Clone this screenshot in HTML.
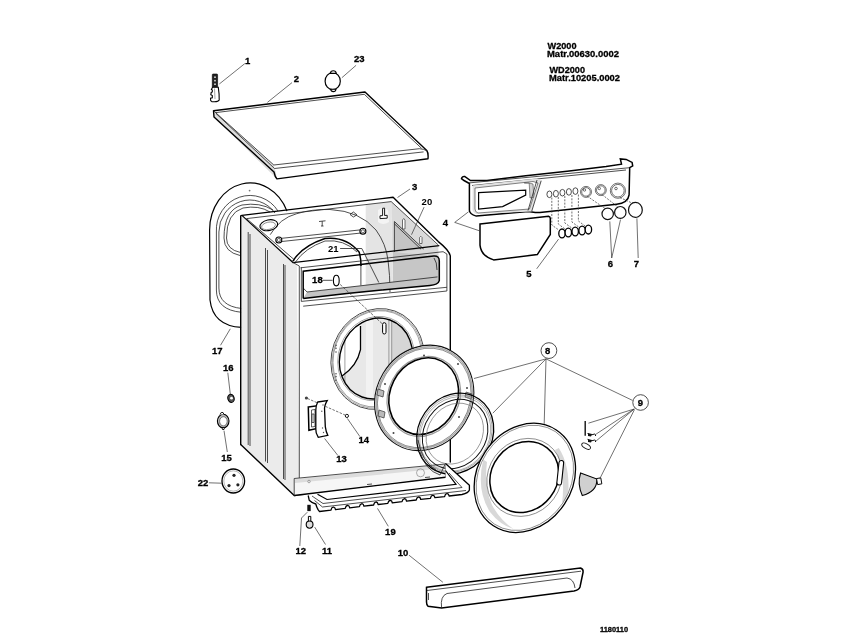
<!DOCTYPE html>
<html><head><meta charset="utf-8">
<style>
html,body{margin:0;padding:0;background:#fff;width:847px;height:635px;overflow:hidden}
svg{position:absolute;left:0;top:0;will-change:transform}
text{font-family:"Liberation Sans",sans-serif;font-weight:bold;fill:#000;stroke:#000;stroke-width:0.3}
.k{stroke:#000;fill:none;stroke-width:1.4;stroke-linejoin:round;stroke-linecap:round}
.t{stroke:#222;fill:none;stroke-width:0.8}
.l{stroke:#333;fill:none;stroke-width:0.7}
.g{fill:#e6e6e6}
</style></head>
<body>
<svg width="847" height="635" viewBox="0 0 847 635">
<!-- header text -->
<g font-size="9.5" transform="translate(0,0)">
<text x="547.5" y="49" textLength="29" lengthAdjust="spacingAndGlyphs">W2000</text>
<text x="547" y="57" textLength="72" lengthAdjust="spacingAndGlyphs">Matr.00630.0002</text>
<text x="549.5" y="73.2" textLength="35.5" lengthAdjust="spacingAndGlyphs">WD2000</text>
<text x="549" y="81" textLength="71" lengthAdjust="spacingAndGlyphs">Matr.10205.0002</text>
</g>
<text x="600" y="632.3" font-size="7.8" textLength="28" lengthAdjust="spacingAndGlyphs">1180110</text>

<!-- LID (2) -->
<path fill="#dedede" d="M213.5,110.7 L273.8,165 Q276,172 277,178.9 L214,117 Z"/>
<path class="k" stroke-width="1.4" d="M213.5,110.7 L365,92 L426.8,150.5 Q428.5,153 428,158.7 L277,178.9 Q275,177 274,172 L214,117 Z"/>
<path class="t" d="M213.5,110.7 L273.8,165 L419.4,148.7 Q424,149 426.8,150.8 M215.8,112.6 L364.3,94.3 L421.5,148.3 M274.5,168.5 L423.6,151.9 M216,113.5 L274.5,168.5"/>
<path class="l" d="M397.5,197.5 L410,189"/>

<!-- GASKET / BACK PANEL (17) -->
<path fill="#fff" stroke="#000" stroke-width="1.2" d="M241.6,327.4 Q213,326 210,300 L209.6,230 A40.4,47 0 0 1 287,211.1"/>
<path class="t" stroke="#333" stroke-width="0.7" d="M241.6,312.3 Q216.4,310 216.4,290 L216.4,232 A33.6,34.5 0 0 1 278,211"/>
<path class="t" stroke="#333" stroke-width="0.7" d="M241.6,308.5 Q218.9,306 218.9,288 L218.9,232 A31.1,32 0 0 1 275,213"/>
<path class="t" stroke="#333" stroke-width="0.7" d="M240.3,255.6 Q224,252 224,238 Q224,210 242,205 Q260,202 273,210"/>
<path class="t" stroke="#555" stroke-width="0.6" d="M240.5,252.5 Q226.5,249.5 226.5,238 Q226.5,213 243,208 Q259,205 270,212"/>
<circle cx="249.6" cy="190.6" r="0.9" fill="#777"/>

<!-- CABINET side face -->
<path fill="#ebebeb" d="M241.5,215 L297,264.5 L299.3,478 L294.5,478.5 L294.2,495.5 L240.7,444.5 Z"/>
<path class="t" stroke="#9a9a9a" stroke-width="1" d="M248.2,232 L248.2,445 M265.5,248 L265.5,461.5 M283.5,264 L283.5,479"/>
<path class="t" stroke="#f8f8f8" stroke-width="1.2" d="M250,234 L250,446 M267.5,250 L267.5,463 M285,265 L285,480"/>
<!-- front face white -->
<path fill="#fff" d="M297,264.5 L450.5,248 L450.5,462 L445.5,463.5 L299.3,478 Z"/>
<!-- top inside gray walls -->
<path fill="#e4e4e4" d="M365.7,204.5 L391.2,201.6 L393,290 L365.7,292 Z"/>
<path fill="#f4f4f4" d="M378,210 Q383,206 388,210 L389,222 Q383,226 378,222 Z"/>
<path fill="#dadada" d="M391.2,201.6 L438.3,245.8 L439.3,283 L393,288 Z"/>
<path fill="#c6c6c6" d="M393,252 L433.7,256 Q439.3,257 439.3,262 L439.3,280.6 L393,285 Z"/>
<!-- panel 20 -->
<path fill="#c4c4c4" d="M394.4,221.5 L423.6,249 L394.4,252 Z"/>
<path class="t" d="M394.4,221.5 L423.6,249 M394.4,223.8 L421,249.2 M394.4,221.5 L394.4,252"/>
<path fill="#fff" stroke="#333" stroke-width="0.7" d="M402.5,229 L402.5,220 Q403.7,217 405,220 L405,229 Z M419.6,243.5 L419.6,237.5 Q420.8,235 422,237.5 L422,243.5 Z"/>
<path class="l" d="M424.1,207.1 L411.5,234.7"/>
<!-- big circle arc -->
<path class="t" stroke="#444" d="M270.2,234.7 Q280,218 296.7,213.7 Q312,209 330,209.5 Q360,211 376,230 Q386,244 388,260 Q390,275 390,292"/>
<!-- drum (21) -->
<path fill="#fff" d="M292.9,261.2 Q302,246 325,238.5 Q346,236 359.1,251 Q361,258 361,266 L361,290 L303.2,298.6 L303.2,270 Z"/>
<path fill="none" stroke="#000" stroke-width="1.5" d="M292.9,261.2 Q302,246 325,238.5 Q346,236 359.1,252 Q361,258 361,266"/>
<path class="t" d="M295.5,262 Q305,248 325,241 Q344,239 357,252"/>
<path class="t" stroke="#333" d="M360.9,264.6 L360.9,285.4"/>
<!-- rod and bolts -->
<path class="t" d="M279,238.6 L363,229.6 M279,241.8 L363,232.8"/>
<circle cx="278.8" cy="240" r="3" fill="#fff" stroke="#000" stroke-width="1.1"/>
<circle cx="278.8" cy="240" r="1.6" fill="none" stroke="#000" stroke-width="0.6"/>
<circle cx="362.9" cy="231.3" r="3" fill="#fff" stroke="#000" stroke-width="1.1"/>
<circle cx="362.9" cy="231.3" r="1.6" fill="none" stroke="#000" stroke-width="0.6"/>
<ellipse cx="268.8" cy="225.2" rx="9" ry="5.3" fill="#fff" stroke="#000" stroke-width="1.1" transform="rotate(-12 268.8 225.2)"/>
<ellipse cx="268.5" cy="225.8" rx="7" ry="3.6" fill="none" stroke="#555" stroke-width="0.6" transform="rotate(-12 268.5 225.8)"/>
<path class="t" d="M319,221.5 L325.5,220.8 M322.2,221.2 L322.2,226 M321,226 L323.5,226"/>
<path class="t" d="M350,214.5 L353.4,212 L357,214.8 L353.4,217 Z"/>
<path d="M382.6,208.3 L384.6,208.1 L384.6,215.5 L387.2,215.3 L387.2,218.2 L380,218.6 L380,215.8 L382.6,215.6 Z" fill="#fff" stroke="#000" stroke-width="0.9"/>
<!-- outer contour of cabinet top & sides -->
<path class="k" d="M240.7,444.5 L240.7,215.8 L241.9,215.4 L393.1,197.3 L438.3,241.6 Q449,250 450.3,256 L450.3,462"/>
<path class="k" d="M240.7,444.5 L294.2,495.5 L445.5,477.2"/>
<path fill="none" stroke="#000" stroke-width="1.2" d="M241.9,215.4 L293,262.5 L439.3,245.7"/>
<path class="t" d="M246.6,218.6 L391.2,201.6 L438.3,245 M246.6,218.6 L294.8,260.2"/>
<path class="t" d="M300.5,267.8 L443.1,251.7 L446.9,254 L446.9,291 M299.3,266 L299.3,478 M293,262.5 L299.3,266"/>
<!-- panel opening -->
<path fill="#c4c4c4" d="M307,292 L437.5,276.9 L439.3,281 Q437,285 429.9,285.4 L346.7,293.9 L303.2,298.6 Z"/>
<path class="t" d="M307,292 L437.5,276.9 M303.2,288 L307,292"/>
<path fill="none" stroke="#000" stroke-width="1.5" d="M303.2,298.6 L303.2,271.2 L433.7,256 Q439.3,255.5 439.3,261 L439.3,280.6 Q438,285 429.9,285.4 L346.7,293.4 L303.2,298.6"/>
<path class="t" d="M301.3,267.4 L301.3,301.4 L446.9,287.3 M303.2,306.2 L446.9,291 M434,258 Q437,262 437,270"/>
<!-- part 18 -->
<ellipse cx="336.3" cy="280.6" rx="2.9" ry="5.3" fill="#fff" stroke="#000" stroke-width="1.1"/>
<path class="t" d="M323,280.3 L332.5,280.3"/>
<path class="t" d="M340.1,248.5 L361.8,248.5 L378.8,282.5"/>

<!-- plinth strip of cabinet -->
<path fill="#f6f6f6" d="M294.2,478.5 L445.5,464 L445.5,477.2 L294.2,495.5 Z"/>
<path fill="#dcdcdc" d="M295,479 L445.5,464.5 L445.5,468 L295,483 Z"/>
<path class="t" d="M294.2,478.5 L445.5,464 L445.5,477.2 M294.2,478.5 L294.2,495.5"/>
<circle cx="309" cy="481.5" r="1.3" fill="none" stroke="#777" stroke-width="0.6"/>


<!-- DOOR OPENING on cabinet front -->
<defs><clipPath id="op"><ellipse cx="376" cy="358.5" rx="36" ry="41"  transform="rotate(20 376 358.5)"/></clipPath></defs>
<ellipse cx="377.5" cy="359" rx="46" ry="51" fill="#fff" stroke="#333" stroke-width="0.8" transform="rotate(20 377.5 359)"/>
<ellipse cx="377.5" cy="359" rx="44.8" ry="49.8" fill="none" stroke="#aaa" stroke-width="0.9" transform="rotate(20 377.5 359)"/>
<ellipse cx="377.3" cy="358.8" rx="43.7" ry="48.7" fill="none" stroke="#555" stroke-width="0.5" transform="rotate(20 377.3 358.8)"/>
<g clip-path="url(#op)">
<rect x="330" y="310" width="100" height="100" fill="#e8e8e8"/>
<path fill="#fff" d="M330,310 L360.5,310 L360.5,349.7 Q357,366 342.1,376 L330,385 Z"/>
<path fill="#f2f2f2" d="M366,320 L373,320 L373,400 L366,400 Z"/>
<path fill="#d6d6d6" d="M391.7,322.8 L420,318 L420,400 L391.7,400 Z"/>
<path fill="#f4f4f4" d="M396,322 L413,320 L414,323 L397,325 Z"/>
<path fill="none" stroke="#777" stroke-width="0.7" d="M344.9,333.4 L344.9,392.2 M343,333.8 L349,333 M343,392 L349,392.5 M388.9,318 L388.9,400 M391.7,318 L391.7,400"/>
<path fill="none" stroke="#000" stroke-width="1.3" d="M360.5,326 L360.5,349.7 Q357,366 342.1,376"/>
</g>
<ellipse cx="376" cy="358.5" rx="36" ry="41" fill="none" stroke="#000" stroke-width="1.4" transform="rotate(20 376 358.5)"/>
<ellipse cx="376" cy="358.5" rx="37.7" ry="42.7" fill="none" stroke="#777" stroke-width="0.6" transform="rotate(20 376 358.5)"/>
<rect x="382.6" y="322.7" width="3.4" height="11.3" rx="1.7" fill="#fff" stroke="#000" stroke-width="1"/>
<g fill="#555"><circle cx="336" cy="345.4" r="0.8"/><circle cx="336" cy="348.2" r="0.8"/><circle cx="336" cy="352" r="0.8"/><circle cx="336" cy="373.7" r="0.8"/><circle cx="336" cy="376.6" r="0.8"/><circle cx="336" cy="380.3" r="0.8"/></g>

<path class="l" stroke-dasharray="3,1.2" d="M340.1,284.4 L382.5,324"/>
<!-- PART 13 door lock & 14 -->
<path class="l" stroke-dasharray="2.5,1.4" d="M307.5,398.5 L345,415"/>
<path fill="#fff" stroke="#000" stroke-width="1.5" d="M308.3,407 L317.1,405.8 L317.1,428.5 L308.9,430.3 Z"/>
<path fill="none" stroke="#333" stroke-width="0.8" d="M311.5,410 L315,409.5 L315,426.5 L311.5,427 Z M312,414 L314,414 L314,422.5 L312,422.5 Z"/>
<path fill="#fff" stroke="#000" stroke-width="1.3" d="M317.7,402 L327.2,400.7 Q324,406 324.6,410.2 L325.3,426.6 Q326,432 327.8,435.4 L318.3,437.3 Q315.5,433 315.8,429.1 L315.8,410 Q316,405 317.7,402 Z"/>
<g fill="#555"><circle cx="323" cy="405" r="0.7"/><circle cx="321.8" cy="411.3" r="0.7"/><circle cx="322.5" cy="428" r="0.7"/><circle cx="323.5" cy="432.5" r="0.7"/></g>
<circle cx="306.4" cy="398" r="1.6" fill="#444"/>
<circle cx="346.9" cy="415.9" r="1.6" fill="#fff" stroke="#000" stroke-width="0.9"/>
<path class="l" d="M347.3,418.4 L359.9,436.6 M324.6,438.5 L337.9,455.5"/>

<!-- RING 1 (inner door frame) -->
<ellipse cx="424.2" cy="397.9" rx="47.8" ry="54.2" fill="#fff" stroke="#111" stroke-width="1.1" transform="rotate(31 424.2 397.9)"/>
<ellipse cx="424.2" cy="397.9" rx="46.2" ry="52.6" fill="none" stroke="#aaa" stroke-width="1.6" transform="rotate(31 424.2 397.9)"/>
<ellipse cx="424.2" cy="397.9" rx="45" ry="51.4" fill="none" stroke="#333" stroke-width="0.5" transform="rotate(31 424.2 397.9)"/>
<ellipse cx="423.8" cy="396.4" rx="35.4" ry="41.2" fill="none" stroke="#999" stroke-width="1.2" transform="rotate(28 423.8 396.4)"/>
<ellipse cx="423.7" cy="396.2" rx="33.6" ry="39.4" fill="#fff" stroke="#000" stroke-width="1.6" transform="rotate(27 423.7 396.2)"/>
<g fill="#444"><circle cx="424" cy="355.5" r="1"/><circle cx="458" cy="364" r="1"/><circle cx="467" cy="388" r="1"/><circle cx="459" cy="417" r="1"/><circle cx="393.5" cy="433" r="1"/><circle cx="385" cy="384" r="1"/></g>
<path fill="#bbb" stroke="#333" stroke-width="0.7" d="M378,389 L384,391 L383,397 L377,395 Z M379,410 L385,412 L384,418 L378,416 Z M466,392 L472,394 L471,399 L465,397 Z"/>

<!-- RING 2 (glass gasket ring) -->
<ellipse cx="455.2" cy="433.6" rx="36.8" ry="41.9" fill="none" stroke="#000" stroke-width="1.3" transform="rotate(34.5 455.2 433.6)"/>
<ellipse cx="455.2" cy="433.6" rx="35.2" ry="40.3" fill="none" stroke="#777" stroke-width="0.6" transform="rotate(34.5 455.2 433.6)"/>
<ellipse cx="455.2" cy="434" rx="33.8" ry="38.9" fill="none" stroke="#888" stroke-width="0.6" transform="rotate(34.5 455.2 434)"/>
<ellipse cx="455.1" cy="434" rx="31" ry="36.2" fill="none" stroke="#111" stroke-width="1" transform="rotate(34.5 455.1 434)"/>
<ellipse cx="454.8" cy="433.6" rx="27" ry="32" fill="none" stroke="#666" stroke-width="0.6" transform="rotate(34.5 454.8 433.6)"/>
<path class="t" d="M420,452 Q425,470 440,475 L445.5,463.5 M418,440 Q422,462 436,470"/>
<path fill="#fff" stroke="#000" stroke-width="0.9" d="M438,461 L450.5,462 L450.5,440 L449,430 Z" opacity="0"/>

<!-- PLINTH 19 -->
<path fill="#fff" d="M308.2,495.5 L309.2,500.2 Q312,503 315.8,504 Q317,509 319.5,511.5 L331.0,510.1 Q331.6,507.4 333.0,507.2 L333.6,507.1 Q335.2,507.3 335.5,509.6 L345.2,508.4 Q345.8,505.7 347.2,505.5 L347.8,505.4 Q349.4,505.6 349.7,507.9 L359.4,506.7 Q360.0,504.0 361.4,503.8 L362.0,503.7 Q363.6,503.9 363.9,506.2 L373.6,505.0 Q374.2,502.3 375.6,502.1 L376.2,502.0 Q377.8,502.2 378.1,504.5 L387.8,503.4 Q388.4,500.7 389.8,500.5 L390.4,500.4 Q392.0,500.6 392.3,502.8 L402.0,501.7 Q402.6,499.0 404.0,498.8 L404.6,498.7 Q406.2,498.9 406.5,501.1 L416.2,500.0 Q416.8,497.3 418.2,497.1 L418.8,497.0 Q420.4,497.2 420.7,499.4 L430.4,498.3 Q431.0,495.6 432.4,495.4 L433.0,495.3 Q434.6,495.5 434.9,497.7 L444.6,496.6 Q445.2,493.9 446.6,493.7 L447.2,493.6 Q448.8,493.8 449.1,496.0 L462.0,494.5 Q468.5,493 469.4,490 L469.4,485.3 L445.5,463.5 L445.5,477.2 L294.2,495.5 Z"/>
<path fill="none" stroke="#000" stroke-width="1.3" stroke-linejoin="round" d="M308.2,495.5 L309.2,500.2 Q312,503 315.8,504 Q317,509 319.5,511.5 L331.0,510.1 Q331.6,507.4 333.0,507.2 L333.6,507.1 Q335.2,507.3 335.5,509.6 L345.2,508.4 Q345.8,505.7 347.2,505.5 L347.8,505.4 Q349.4,505.6 349.7,507.9 L359.4,506.7 Q360.0,504.0 361.4,503.8 L362.0,503.7 Q363.6,503.9 363.9,506.2 L373.6,505.0 Q374.2,502.3 375.6,502.1 L376.2,502.0 Q377.8,502.2 378.1,504.5 L387.8,503.4 Q388.4,500.7 389.8,500.5 L390.4,500.4 Q392.0,500.6 392.3,502.8 L402.0,501.7 Q402.6,499.0 404.0,498.8 L404.6,498.7 Q406.2,498.9 406.5,501.1 L416.2,500.0 Q416.8,497.3 418.2,497.1 L418.8,497.0 Q420.4,497.2 420.7,499.4 L430.4,498.3 Q431.0,495.6 432.4,495.4 L433.0,495.3 Q434.6,495.5 434.9,497.7 L444.6,496.6 Q445.2,493.9 446.6,493.7 L447.2,493.6 Q448.8,493.8 449.1,496.0 L462.0,494.5 Q468.5,493 469.4,490 L469.4,485.3 L445.5,463.5"/>
<path fill="none" stroke="#000" stroke-width="1.2" d="M317.5,494.3 L327,499.5 L456,484.4 L445.5,470.5"/>
<path class="t" stroke="#666" d="M312,496 L323,503.5 L462,487.5 L449,473 M314.5,500.5 L322.5,507 L466,490.5"/>
<path fill="none" stroke="#000" stroke-width="1.4" d="M294.2,495.5 L445.5,477.2"/>
<circle cx="420.5" cy="472.8" r="4" fill="none" stroke="#888" stroke-width="0.7"/>
<path class="t" stroke="#888" d="M367,484.5 L372,484 M425,477.5 L430,477"/>
<path class="l" d="M377.5,508.4 L388.3,526.3"/>

<!-- PART 10 kick panel -->
<path fill="#fff" stroke="#000" stroke-width="1.5" d="M426.5,587.3 L580.5,568 Q583.5,569 583.1,572 L580,587 Q579,590 574,591 L441.6,608 L428,606.2 Q426.5,605 426.5,602 Z"/>
<path class="t" d="M427,590.5 L581,571.2 M441.6,608 Q440,596 447,593.5 L567,578 Q574,579 575,588"/>
<path class="t" d="M428.5,593 L428.5,600"/>
<path class="l" d="M409,555.2 L442.9,582.3"/>

<!-- small parts left -->
<rect x="212.3" y="74" width="5.3" height="13.5" rx="0.8" fill="#222" stroke="#000" stroke-width="0.6"/>
<g fill="#ddd"><circle cx="215" cy="77.2" r="0.9"/><circle cx="215" cy="80.7" r="0.9"/><circle cx="215" cy="84.2" r="0.9"/></g>
<path fill="#fff" stroke="#000" stroke-width="1.1" d="M212.5,87.3 L218.3,87.3 Q219.5,95 219.2,100 Q218.5,101.6 214.5,101.8 L211.8,101.6 Q210.2,101 210.5,98.2 L212.3,97.8 L212.3,95.5 L210.8,94.8 L211.2,92.5 L212.3,92 L212.3,90 L211.4,89.5 Z"/>
<path fill="none" stroke="#666" stroke-width="0.6" d="M214.5,88.5 L215,99"/>
<ellipse cx="332.7" cy="81.2" rx="7.6" ry="8.5" fill="#fff" stroke="#000" stroke-width="1.2"/>
<path fill="#fff" stroke="#000" stroke-width="1.1" d="M330.3,73.4 Q330.6,70.8 333.3,70.8 Q336,70.8 336.3,73.4 Z M330.6,89.2 Q331,91.6 333.3,91.6 Q335.7,91.6 336,89.2 Z"/>
<ellipse cx="231" cy="398.4" rx="3.2" ry="4.1" fill="#555" stroke="#000" stroke-width="1" transform="rotate(-15 231 398.4)"/>
<circle cx="231.5" cy="398.2" r="1.4" fill="#fff"/>
<path class="l" d="M227.8,372.7 L230.3,394.2"/>
<ellipse cx="223.2" cy="421.1" rx="5.8" ry="6.8" fill="#bbb" stroke="#000" stroke-width="1.1"/>
<ellipse cx="223.4" cy="421.3" rx="3.8" ry="4.6" fill="#fff" stroke="#444" stroke-width="0.7"/>
<path fill="#fff" stroke="#000" stroke-width="0.9" d="M220,414.5 Q221,411.5 223,412.5 L224,414.5 M222,427.5 L224.5,427.5 L224,429.5 L222.5,429.5 Z"/>
<path class="l" d="M224,430.7 L227.3,452"/>
<ellipse cx="233.3" cy="481" rx="11.3" ry="12" fill="#fff" stroke="#000" stroke-width="1.3"/>
<ellipse cx="233.3" cy="481" rx="9.5" ry="10.2" fill="none" stroke="#888" stroke-width="0.6"/>
<g fill="#222"><circle cx="234" cy="475.3" r="1.6"/><circle cx="229" cy="485.6" r="1.6"/><circle cx="237.9" cy="484.8" r="1.6"/></g>
<path class="l" d="M208.9,482.8 L221.5,483.2 M230.3,328.8 L220.5,345.3"/>
<rect x="307.3" y="504.8" width="3.4" height="6.3" fill="#111"/>
<path fill="#fff" stroke="#000" stroke-width="1" d="M308.4,516.4 L310.8,516.4 L310.8,522 L308.4,522 Z"/>
<ellipse cx="309.6" cy="524.6" rx="3.4" ry="3.6" fill="#ddd" stroke="#000" stroke-width="1.1"/>
<path class="l" d="M307.3,512.2 L301.5,518 L299.8,546 M314.7,527.1 L325.5,544.5"/>

<!-- CONTROL PANEL -->
<path fill="#fff" stroke="#000" stroke-width="1.5" d="M461.5,178.6 Q462,176 465,176.6 L470.5,180.6 L487,180.5 L525.8,175.7 L567.2,171.3 L606.1,166.5 L621.5,164.2 L620.3,158.9 L626.2,159.4 L632.1,162.4 L632.7,165.9 L629.7,167.7 L629.1,194.9 Q628,203 616.7,204.3 L540,212.6 L535.3,212.6 L528.2,211.4 L476.3,216.1 Q469.4,214 469.4,210.2 L469.4,183.5 L464,180.5 Z"/>
<path class="t" d="M468,183 L629.7,167.7 M472,185.5 L626,170"/>
<path fill="#e2e2e2" d="M472.7,185.4 L537,178.5 L541.2,180.7 L531.7,211.4 L476.3,214 Q472,212 472.5,208 Z"/>
<path fill="#fff" stroke="#333" stroke-width="0.6" d="M475,188 L533,181.5 L538,183 L529.5,209 L478,213 Q475,212 475,209 Z"/>
<path fill="#fff" stroke="#000" stroke-width="1.2" d="M478.6,192.6 L525.7,190.1 L525.7,195.1 L502.6,206.6 L478.6,209.1 Z"/>
<path fill="#d4d4d4" stroke="#444" stroke-width="0.6" d="M529.2,183 L533,184 L533.8,197.1 L530,198 Z"/><path class="t" d="M524.2,183 L529.2,183"/>
<path class="t" d="M541.2,180.7 L531.7,211.4 M537,180 L528,210.5"/>
<g fill="#fff" stroke="#222" stroke-width="0.8">
<ellipse cx="549.4" cy="194.3" rx="2.5" ry="3.3"/><ellipse cx="555.9" cy="193.7" rx="2.5" ry="3.3"/><ellipse cx="562.4" cy="192.7" rx="2.5" ry="3.3"/><ellipse cx="568.9" cy="191.9" rx="2.5" ry="3.3"/><ellipse cx="575.4" cy="191.1" rx="2.5" ry="3.3"/>
</g>
<g fill="none" stroke="#333" stroke-width="0.7">
<circle cx="586" cy="191.9" r="5.5"/><circle cx="586" cy="191.9" r="4.3"/><circle cx="584.5" cy="190" r="1.2"/>
<circle cx="600.8" cy="190.1" r="5.5"/><circle cx="600.8" cy="190.1" r="4.3"/><circle cx="599.3" cy="188.5" r="1.2"/>
<circle cx="617.9" cy="190.7" r="7.6"/><circle cx="617.9" cy="190.7" r="6.3"/><circle cx="616" cy="188.5" r="1.3"/>
</g>
<g class="l" stroke-dasharray="2,1.3">
<path d="M551.8,197.5 L551.8,225 L558.5,229.8"/><path d="M558.3,197 L558.3,224 L565,229"/><path d="M564.8,196 L564.8,223 L571.8,228"/><path d="M571.9,195 L571.9,222 L578.7,227"/><path d="M578.4,194.5 L578.4,221 L585,226"/>
<path d="M587,196 L605,208.5"/><path d="M602,194.5 L618,207"/><path d="M620,197.5 L633,203.5"/>
</g>
<!-- drawer 4 -->
<path fill="#fff" stroke="#000" stroke-width="1.5" d="M480,223.9 L548.5,216.2 Q550.3,216.5 550.3,218.5 L550.3,234.5 L537.3,254.6 L493.6,259.9 Q481,256 480,245.1 Z"/>
<path class="l" d="M445.2,222.8 M454.7,222.4 L468.5,211.8 M454.7,222.4 L479.1,230.7"/>
<!-- caps 5 -->
<g fill="#fff" stroke="#000" stroke-width="1.3">
<ellipse cx="562" cy="233.4" rx="3.2" ry="4.4"/><ellipse cx="568.3" cy="232.5" rx="3.2" ry="4.4"/><ellipse cx="575.2" cy="231.5" rx="3.2" ry="4.4"/><ellipse cx="582.1" cy="230.5" rx="3.2" ry="4.4"/><ellipse cx="588.4" cy="229.6" rx="3.2" ry="4.4"/>
</g>
<g fill="#fff" stroke="#111" stroke-width="1.2">
<ellipse cx="607.7" cy="213.9" rx="5.7" ry="5.7"/><ellipse cx="620.3" cy="212.4" rx="5.7" ry="5.9"/><ellipse cx="635.4" cy="209.9" rx="6.9" ry="7.5"/>
</g>
<path class="l" d="M558.5,239.2 L536.7,268.8 M611.7,258 L609.8,221.4 M611.7,258 L620.5,219.6 M638.2,258 L636.9,218.3"/>

<!-- DOOR (big) -->
<ellipse cx="524.85" cy="477.85" rx="47.5" ry="57.3" fill="#fff" stroke="#000" stroke-width="1.3" transform="rotate(33.3 524.85 477.85)"/>
<defs><clipPath id="band"><path d="M470,420 L600,420 L600,540 L470,540 Z"/></clipPath></defs>
<path fill="#d8d8d8" d="M483.2,459.6 Q476,490 490,512 Q500,525 513.5,529 Q500,520 492,505 Q484,487 487,462 Z"/>
<path fill="#d8d8d8" d="M558.8,448 Q570,465 568.3,493.6 Q566,500 562,503 Q566,475 555,450 Z"/>
<ellipse cx="524.85" cy="477.85" rx="45.6" ry="55.4" fill="none" stroke="#555" stroke-width="0.6" transform="rotate(33.3 524.85 477.85)"/>
<ellipse cx="524.5" cy="477.4" rx="36.2" ry="40.4" fill="none" stroke="#555" stroke-width="0.6" transform="rotate(36 524.5 477.4)"/>
<ellipse cx="524.3" cy="477" rx="32.8" ry="37" fill="#fff" stroke="#000" stroke-width="1.5" transform="rotate(38 524.3 477)"/>
<rect x="557.9" y="460.5" width="4.7" height="24.6" rx="2.3" fill="#fff" stroke="#000" stroke-width="1.1" transform="rotate(6 560.2 472.8)"/>

<!-- PARTS 9 -->
<path stroke="#111" stroke-width="1.4" d="M585.2,421.1 L585.2,435.8"/>
<path fill="none" stroke="#111" stroke-width="1" d="M587.5,433.5 Q590,436 593,434.5 Q596,433 595.5,436 M587.5,439.3 Q590,442 593,440.5 Q596,439 595.5,442"/>
<path fill="#111" d="M588,433 L592,434 L591,436.5 L588,436 Z M588,439 L592,440 L591,442.5 L588,442 Z"/>
<ellipse cx="586.1" cy="446.2" rx="4.8" ry="2.3" fill="#fff" stroke="#111" stroke-width="0.9" transform="rotate(30 586.1 446.2)"/>
<path fill="#d0d0d0" stroke="#000" stroke-width="1.1" d="M580.6,473 L597,479.1 Q597,492 582.3,495.5 Q577,484 580.6,473 Z"/>
<rect x="597" y="478.2" width="4.3" height="6.1" fill="#fff" stroke="#000" stroke-width="0.9" transform="rotate(-10 599 481)"/>

<!-- leaders 8 & 9 -->
<path class="l" d="M546,358.9 L474,378.5 M546,358.9 L492.8,413.2 M546,358.9 L544.2,423.9 M546,358.9 L632.5,400.4 M634.2,409 L588.4,423.2 M634.2,409 L596.1,434.1 M634.2,409 L596.1,441 M634.5,409.5 L599.6,479.1"/>

<!-- labels -->
<g font-size="9.5" text-anchor="middle">
<text x="247.6" y="64.2">1</text>
<text x="296.3" y="81.7">2</text>
<text x="359.2" y="62.4">23</text>
<text x="414.6" y="189.8">3</text>
<text x="445.5" y="226.4">4</text>
<text x="317.4" y="283.4">18</text>
<text x="217.2" y="354">17</text>
<text x="228.3" y="371.1">16</text>
<text x="226.5" y="461">15</text>
<text x="203.1" y="486.2">22</text>
<text x="341.6" y="462.4">13</text>
<text x="363.7" y="443.2">14</text>
<text x="390.4" y="535.4">19</text>
<text x="300.7" y="554.4">12</text>
<text x="327.1" y="554.4">11</text>
<text x="403.1" y="556.1">10</text>
<text x="528.9" y="276.6">5</text>
<text x="610.5" y="267.2">6</text>
<text x="636.5" y="267.2">7</text>
<text x="547.7" y="353.9">8</text>
<text x="640.5" y="406.4">9</text>
</g>
<g font-size="9.5" text-anchor="middle" font-weight="normal">
<text x="426.9" y="204.7" style="stroke:none">20</text>
<text x="333.2" y="251.7" style="stroke:none">21</text>
</g>
<circle class="t" stroke="#555" cx="548.9" cy="350.6" r="7.9"/>
<circle class="t" stroke="#555" cx="640.6" cy="402.5" r="7.8"/>

<!-- leader lines -->
<path class="l" d="M219.3,84 L244.8,63.6 M267.4,102.4 L292,82.6 M341.9,77.7 L356.1,65.3"/>
</svg>
</body></html>
